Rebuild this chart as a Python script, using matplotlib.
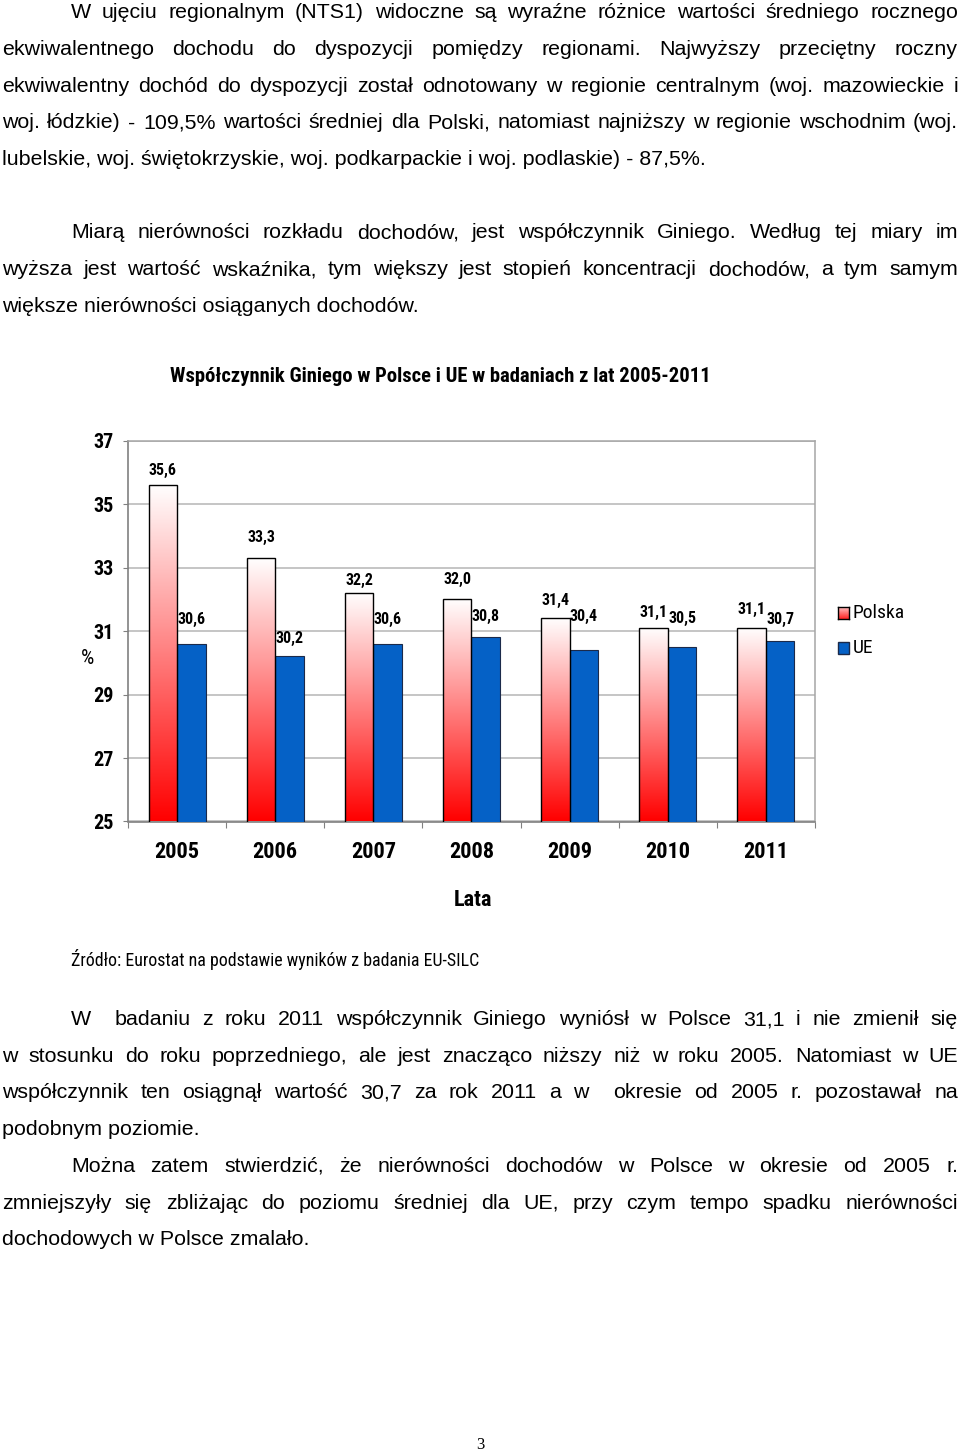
import numpy as np
import matplotlib
matplotlib.use("Agg")
import matplotlib.pyplot as plt
from matplotlib import font_manager as fm
from matplotlib.colors import LinearSegmentedColormap
from matplotlib.patches import Rectangle

W, H = 960, 1453

# ---- chart data ---------------------------------------------------------------
years = ["2005", "2006", "2007", "2008", "2009", "2010", "2011"]
polska = [35.6, 33.3, 32.2, 32.0, 31.4, 31.1, 31.1]
ue = [30.6, 30.2, 30.6, 30.8, 30.4, 30.5, 30.7]
y_ticks = [25, 27, 29, 31, 33, 35, 37]

# ---- page text ----------------------------------------------------------------
para1 = [
    "W ujęciu regionalnym (NTS1) widoczne są wyraźne różnice wartości średniego rocznego",
    "ekwiwalentnego dochodu do dyspozycji pomiędzy regionami. Najwyższy przeciętny roczny",
    "ekwiwalentny dochód do dyspozycji został odnotowany w regionie centralnym (woj. mazowieckie i",
    "woj. łódzkie) - 109,5% wartości średniej dla Polski, natomiast najniższy w regionie wschodnim (woj.",
    "lubelskie, woj. świętokrzyskie, woj. podkarpackie i woj. podlaskie) - 87,5%.",
]
para2 = [
    "Miarą nierówności rozkładu dochodów, jest współczynnik Giniego. Według tej miary im",
    "wyższa jest wartość wskaźnika, tym większy jest stopień koncentracji dochodów, a tym samym",
    "większe nierówności osiąganych dochodów.",
]
para3 = [
    "W  badaniu z roku 2011 współczynnik Giniego wyniósł w Polsce 31,1 i nie zmienił się",
    "w stosunku do roku poprzedniego, ale jest znacząco niższy niż w roku 2005. Natomiast w UE",
    "współczynnik ten osiągnął wartość 30,7 za rok 2011 a w  okresie od 2005 r. pozostawał na",
    "podobnym poziomie.",
]
para4 = [
    "Można zatem stwierdzić, że nierówności dochodów w Polsce w okresie od 2005 r.",
    "zmniejszyły się zbliżając do poziomu średniej dla UE, przy czym tempo spadku nierówności",
    "dochodowych w Polsce zmalało.",
]
title = "Współczynnik Giniego w Polsce i UE w badaniach z lat 2005-2011"
source = "Źródło: Eurostat na podstawie wyników z badania EU-SILC"

installed = {}
for f in fm.fontManager.ttflist:
    installed.setdefault(f.name, set()).add(int(f.weight) if str(f.weight).isdigit() else 400)


def pick(candidates, need_bold=False):
    for name in candidates:
        if name in installed and (not need_bold or max(installed[name]) >= 700):
            return name
    return "DejaVu Sans"


BODY = pick(["Liberation Sans", "Arimo"])
# the chart was set in Arial Narrow (bold)
NARROW = pick(["Liberation Sans Narrow", "Arial Narrow", "Roboto Condensed", "PT Sans Narrow",
               "Open Sans Condensed", "Fira Sans Condensed", "Barlow Semi Condensed"], need_bold=True)
SERIF = pick(["Liberation Serif", "DejaVu Serif"])
plt.rcParams["font.family"] = [NARROW, "DejaVu Sans"]

fig = plt.figure(figsize=(W / 100, H / 100), dpi=100)
fig.patch.set_facecolor("white")
renderer = fig.canvas.get_renderer()


def px(x, y):
    return x / W, 1 - y / H


def width_of(s, **kw):
    t = fig.text(0, 0, s, **kw)
    w = t.get_window_extent(renderer).width
    t.remove()
    return w


def fit_size(s, target, **kw):
    # font size that makes the string span `target` pixels
    return 10 * target / width_of(s, fontsize=10, **kw)


# ---- body text, justified like the original page -------------------------------
X_LEFT, X_INDENT, X_RIGHT, LEAD = 2, 71, 958, 36.7
body_fs = fit_size(para1[-1], 703, family=BODY)


def paragraph(lines, y0):
    for i, line in enumerate(lines):
        y = y0 + i * LEAD
        x0 = X_INDENT if i == 0 else X_LEFT
        if i == len(lines) - 1:
            fig.text(*px(x0, y), line, fontsize=body_fs, family=BODY, va="baseline")
            continue
        words = line.split(" ")
        objs = [fig.text(0, 0, w, fontsize=body_fs, family=BODY, va="baseline") for w in words]
        widths = [o.get_window_extent(renderer).width if w else 0 for o, w in zip(objs, words)]
        gap = (X_RIGHT - x0 - sum(widths)) / (len(words) - 1)
        x = x0
        for o, w in zip(objs, widths):
            o.set_position(px(x, y))
            x += w + gap


paragraph(para1, 18.3)
paragraph(para2, 238.5)
paragraph(para3, 1025)
paragraph(para4, 1172)

# ---- chart ------------------------------------------------------------------------
fig.text(*px(440, 377), title, ha="center", va="center", fontweight="bold",
         fontsize=fit_size(title, 540, fontweight="bold"))
fig.text(*px(71, 960), source, va="center", fontsize=fit_size(source, 407))

year_fs, ytick_fs, val_fs, leg_fs = 16, 14.5, 11.5, 14

ax = fig.add_axes([128 / W, 1 - 821.5 / H, 687 / W, 380.8 / H])
x = np.arange(len(years))
bw = 0.29
blue = "#0561c6"

red_grad = LinearSegmentedColormap.from_list("pl", ["#ffffff", "#ff0000"])
grad = np.linspace(0, 1, 256).reshape(-1, 1)

pl_bars = ax.bar(x - bw / 2, polska, bw, facecolor="none", edgecolor="black", lw=1.0, zorder=4)
for b, v in zip(pl_bars, polska):
    ax.imshow(grad, cmap=red_grad, extent=(b.get_x(), b.get_x() + bw, 25, v),
              aspect="auto", origin="upper", zorder=3)
ax.bar(x + bw / 2, ue, bw, color=blue, edgecolor="#1b2a4a", lw=0.8, zorder=3)

# value labels (Excel had them nudged by hand, so offsets differ a little)
pl_nudge = [15, 21, 13, 20, 18, 15, 18]
ue_nudge = [24, 18, 24, 21, 34, 28, 21]
for xi, v, d in zip(x - bw / 2, polska, pl_nudge):
    ax.annotate(f"{v:.1f}".replace(".", ","), (xi, v), xytext=(0, d * 0.72),
                textcoords="offset points", ha="center", va="center",
                fontsize=val_fs, fontweight="bold", zorder=6)
for xi, v, d in zip(x + bw / 2, ue, ue_nudge):
    ax.annotate(f"{v:.1f}".replace(".", ","), (xi, v), xytext=(0, d * 0.72),
                textcoords="offset points", ha="center", va="center",
                fontsize=val_fs, fontweight="bold", zorder=6)

ax.set_xlim(-0.5, len(years) - 0.5)
ax.set_ylim(25, 37)
ax.set_yticks(y_ticks)
ax.set_yticklabels([str(t) for t in y_ticks], fontsize=ytick_fs, fontweight="bold")
ax.grid(axis="y", color="#b5b5b5", lw=1.1, zorder=0)
ax.set_axisbelow(True)

ax.set_xticks(np.arange(-0.5, len(years), 1))
ax.set_xticklabels([])
ax.set_xticks(x, minor=True)
ax.set_xticklabels(years, minor=True, fontsize=year_fs, fontweight="bold")
ax.tick_params(axis="x", which="major", length=4.3, color="#808080", direction="out")
ax.tick_params(axis="x", which="minor", length=0, pad=14)
ax.tick_params(axis="y", length=3.6, color="#808080", pad=6.5)

for side in ("left", "bottom"):
    ax.spines[side].set_color("#808080")
    ax.spines[side].set_linewidth(1.2)
for side in ("top", "right"):
    ax.spines[side].set_color("#a6a6a6")
    ax.spines[side].set_linewidth(1.1)

fig.text(*px(88, 658), "%", ha="center", va="center", fontsize=15)
fig.text(*px(473, 900), "Lata", ha="center", va="center", fontsize=year_fs, fontweight="bold")

# legend, drawn by hand so the Polska swatch keeps its gradient
sw = fig.add_axes([838 / W, 1 - 619 / H, 11 / W, 12 / H])
sw.imshow(grad, cmap=LinearSegmentedColormap.from_list("sw", ["#ffd0d0", "#ff2020"]),
          aspect="auto", origin="upper")
sw.set_xticks([])
sw.set_yticks([])
for s in sw.spines.values():
    s.set_color("black")
    s.set_linewidth(1.0)
fig.add_artist(Rectangle(px(838, 654), 11 / W, 12 / H, transform=fig.transFigure,
                         facecolor=blue, edgecolor="#1b2a4a", lw=1.0))
fig.text(*px(853, 613), "Polska", va="center", fontsize=leg_fs)
fig.text(*px(853, 648), "UE", va="center", fontsize=leg_fs)

fig.text(*px(480, 1445), "3", ha="center", va="center", fontsize=12, family=SERIF)

fig.savefig("out.png", dpi=100, facecolor="white")
